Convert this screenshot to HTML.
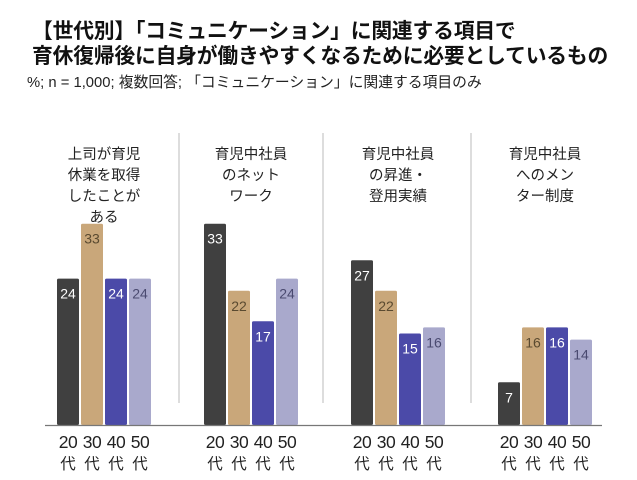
<!DOCTYPE html>
<html><head><meta charset="utf-8">
<style>
body{margin:0;background:#fff;width:637px;height:480px;overflow:hidden;font-family:"Liberation Sans","Noto Sans CJK JP",sans-serif;}
.t{position:absolute;left:32px;font-weight:bold;font-size:20.8px;color:#111;white-space:nowrap;letter-spacing:-0.2px}
.s{position:absolute;left:27px;top:71px;font-size:14.8px;color:#222;white-space:nowrap}
</style></head><body>
<div class="t" style="top:14px">【世代別】「コミュニケーション」に関連する項目で</div>
<div class="t" style="top:39px">育休復帰後に自身が働きやすくなるために必要としているもの</div>
<div class="s">%; n = 1,000; 複数回答; 「コミュニケーション」に関連する項目のみ</div>
<svg id="chart" width="637" height="480" style="position:absolute;left:0;top:0"></svg>
<script>
const categories=[["上司が育児","休業を取得","したことが","ある"],["育児中社員","のネット","ワーク"],["育児中社員","の昇進・","登用実績"],["育児中社員","へのメン","ター制度"]];
const seriesNames=["20代","30代","40代","50代"];
const s20=[24,33,27,7];
const s30=[33,22,22,16];
const s40=[24,17,15,16];
const s50=[24,24,16,14];
const series=[s20,s30,s40,s50];
const colors=["#404040","#c9a77a","#4b4aa8","#a9a9cc"];
const txtColors=["#fff","#5a4a30","#fff","#4a4a70"];
const svg=document.getElementById('chart');
const NS="http://www.w3.org/2000/svg";
const base=425, ppu=6.1;
const y=v=>base-v*ppu;
const gx=i=>57+i*147;
const bx=(g,k)=>gx(g)+k*24;
function mk(t,a){const e=document.createElementNS(NS,t);for(const k in a)e.setAttribute(k,a[k]);svg.appendChild(e);return e;}
[179,323,471].forEach((x,i)=>{const l=mk('line',{x1:x,x2:x,y1:133,y2:403,stroke:'#bbb','stroke-width':1});

});
categories.forEach((lines,g)=>{
  const cx=gx(g)+47;
  lines.forEach((ln,j)=>{const t=mk('text',{x:cx,y:159+j*21,'text-anchor':'middle','font-size':14.5,fill:'#222'});t.textContent=ln;
  
  });
  series.forEach((s,k)=>{
    const v=s[g],x=bx(g,k);
    const r=mk('rect',{x:x,y:y(v),width:22,height:base-y(v),fill:colors[k],rx:1.5});
    
    
    const t=mk('text',{x:x+11,y:y(v)+20,'text-anchor':'middle','font-size':14,fill:txtColors[k]});t.textContent=v;
    
    
    const a=mk('text',{x:x+11,y:448,'text-anchor':'middle','font-size':17.5,fill:'#222','letter-spacing':'-0.5'});a.textContent=seriesNames[k].slice(0,2);
    
    
    const b=mk('text',{x:x+11,y:469,'text-anchor':'middle','font-size':15.5,fill:'#222'});b.textContent='代';
    
    
  });
});
const ax=mk('line',{x1:45,x2:602,y1:base+0.5,y2:base+0.5,stroke:'#777','stroke-width':1.2});


</script>
</body></html>
